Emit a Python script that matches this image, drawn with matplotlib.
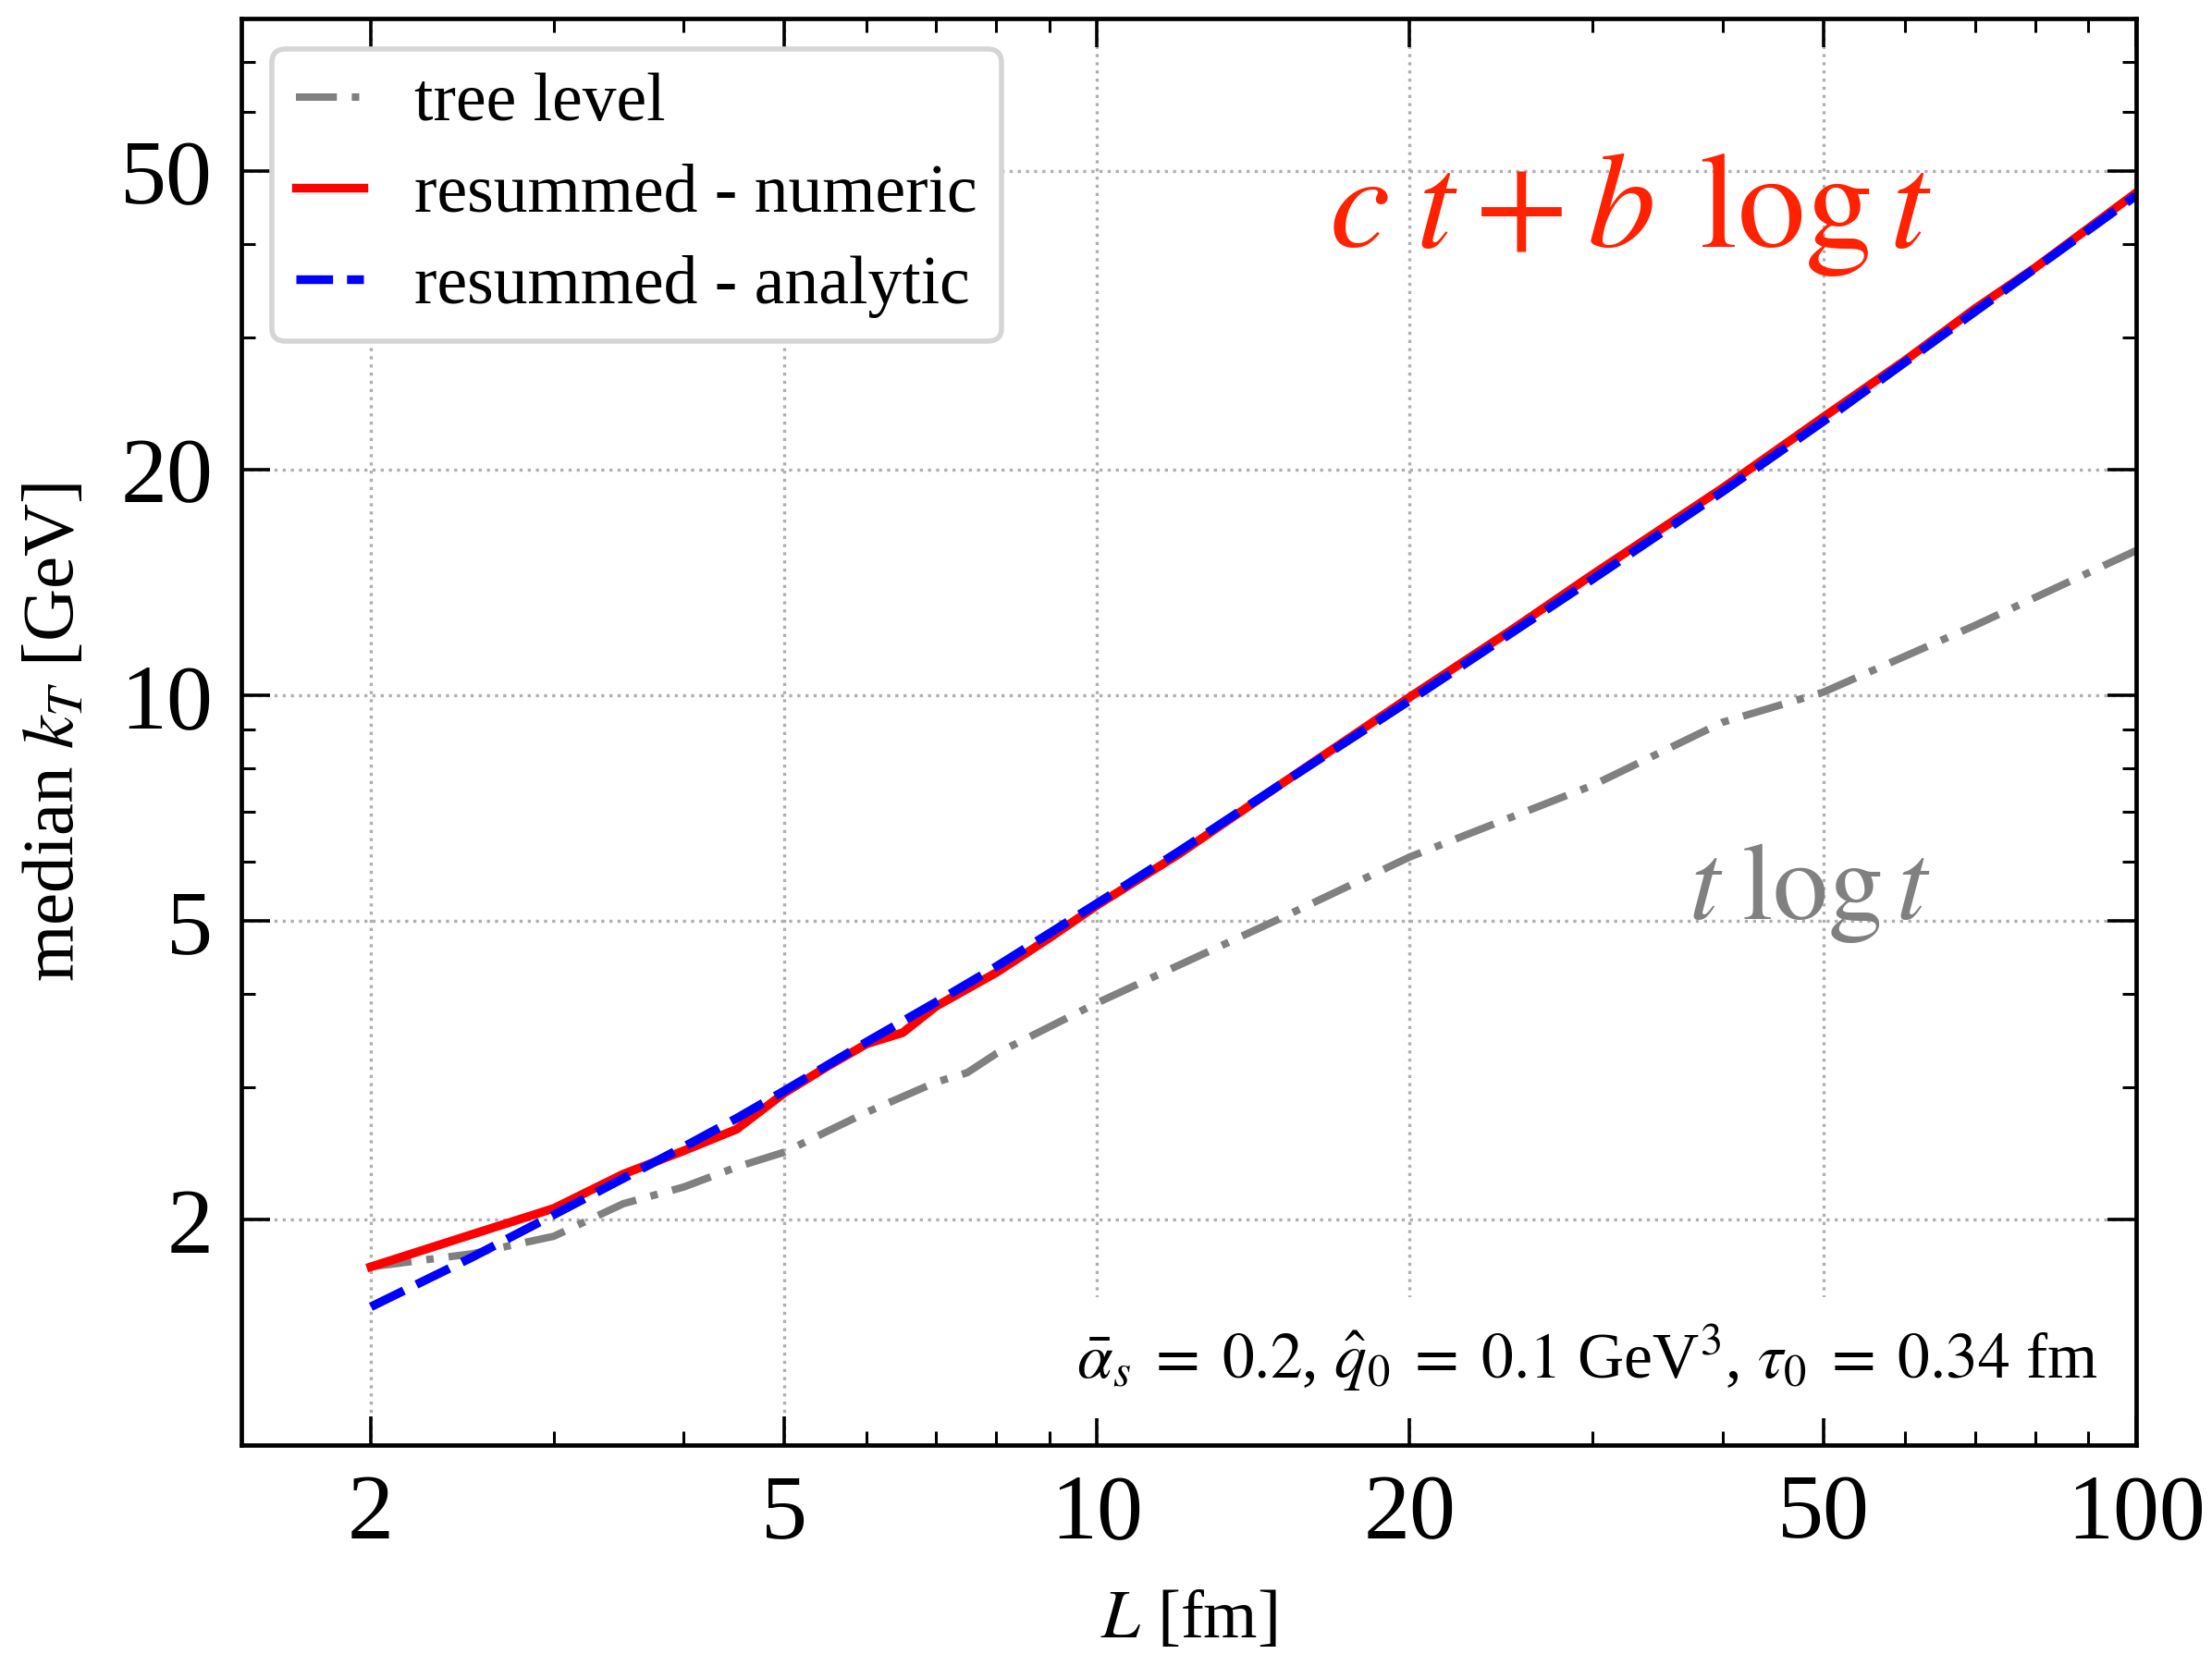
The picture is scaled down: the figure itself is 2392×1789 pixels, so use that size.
import matplotlib
matplotlib.use("Agg")
import matplotlib.pyplot as plt
from matplotlib.ticker import FixedLocator, FixedFormatter, LogLocator, NullFormatter

plt.rcParams['font.family'] = ['Liberation Serif', 'DejaVu Serif']
plt.rcParams['mathtext.fontset'] = 'stix'

# tree level (dash-dot gray)
L_tree = [2, 2.5, 3, 3.5, 4, 4.5, 5, 6, 7, 7.5, 8, 10, 15, 20, 30, 40, 50, 70, 100]
kt_tree = [1.73, 1.80, 1.90, 2.10, 2.21, 2.35, 2.46, 2.78, 3.05, 3.14, 3.33, 3.89,
           5.04, 6.09, 7.59, 9.21, 10.1, 12.4, 15.6]

# resummed - numeric (solid red)
L_num = [2, 2.5, 3, 3.5, 4, 4.5, 5, 5.5, 6, 6.5, 7, 8, 9, 10, 12, 15, 20, 25, 30,
         40, 50, 60, 70, 80, 100]
kt_num = [1.73, 1.91, 2.07, 2.30, 2.47, 2.64, 2.95, 3.20, 3.43, 3.55, 3.85, 4.27,
          4.75, 5.25, 6.15, 7.6, 9.95, 12.2, 14.5, 18.9, 23.5, 28.0, 32.8, 37.2, 46.8]

# resummed - analytic (dashed blue)
L_ana = [2, 2.5, 3, 3.5, 4, 4.5, 5, 6, 7, 8, 10, 12, 15, 20, 30, 40, 50, 70, 100]
kt_ana = [1.53, 1.78, 2.03, 2.27, 2.50, 2.73, 2.97, 3.45, 3.90, 4.35, 5.28, 6.2,
          7.6, 9.85, 14.3, 18.7, 23.2, 32.5, 46.4]

x_ticks = [2, 5, 10, 20, 50, 100]
y_ticks = [2, 5, 10, 20, 50]

fig = plt.figure(figsize=(11.96, 8.945), dpi=200)
ax = fig.add_axes([0.109, 0.1262, 0.8566, 0.8627])

ax.plot(L_tree, kt_tree, color='gray', lw=2.9, dashes=(5.5, 2, 1, 2), label='tree level')
ax.plot(L_num, kt_num, color='red', ls='-', lw=3.4, label='resummed - numeric')
ax.plot(L_ana, kt_ana, color='blue', lw=3.4, dashes=(4.2, 1.6), label='resummed - analytic')

ax.set_xscale('log')
ax.set_yscale('log')
ax.set_xlim(1.5, 100)
ax.set_ylim(1.0, 80)

ax.xaxis.set_major_locator(FixedLocator(x_ticks))
ax.xaxis.set_major_formatter(FixedFormatter([str(v) for v in x_ticks]))
ax.yaxis.set_major_locator(FixedLocator(y_ticks))
ax.yaxis.set_major_formatter(FixedFormatter([str(v) for v in y_ticks]))
ax.xaxis.set_minor_locator(LogLocator(base=10, subs=range(1, 10)))
ax.yaxis.set_minor_locator(LogLocator(base=10, subs=range(1, 10)))
ax.xaxis.set_minor_formatter(NullFormatter())
ax.yaxis.set_minor_formatter(NullFormatter())

ax.tick_params(which='both', direction='in', top=True, right=True)
ax.tick_params(which='major', length=11, width=1.3, labelsize=36, pad=11)
ax.tick_params(which='minor', length=5.5, width=1.1)
for s in ax.spines.values():
    s.set_linewidth(1.7)

ax.grid(True, which='major', ls=':', color='#b0b0b0', lw=1.2)

ax.set_xlabel('$L$ [fm]', fontsize=27, labelpad=13)
ax.set_ylabel('median $k_T$ [GeV]', fontsize=28.5, labelpad=12)

leg = ax.legend(loc='upper left', fontsize=26.5, handlelength=1.0, handletextpad=0.75,
                labelspacing=0.42, borderpad=0.35, borderaxespad=0.45,
                fancybox=True, framealpha=1)
leg.get_frame().set_edgecolor('#d5d5d5')
leg.get_frame().set_linewidth(2)

ax.text(0.733, 0.84, r'$c\;t + b\;\,\log t$', transform=ax.transAxes, color='#ff2200',
        fontsize=53, ha='center', va='baseline')
ax.text(0.828, 0.369, r'$t\;\log t$', transform=ax.transAxes, color='gray',
        fontsize=43, ha='center', va='baseline')
ax.text(0.98, 0.047,
        r'$\bar{\alpha}_s\;=\;0.2$, $\hat{q}_0\;=\;0.1$ GeV$^3$, $\tau_0\;=\;0.34$ fm',
        transform=ax.transAxes, fontsize=25, ha='right', va='baseline',
        bbox=dict(facecolor='white', edgecolor='none', pad=10))

fig.savefig('out.png', dpi=200)
